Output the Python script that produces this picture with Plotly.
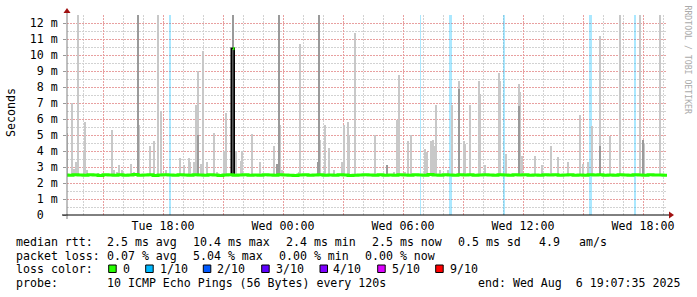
import pandas as pd
import plotly.graph_objects as go

# ---------------- data ----------------
BASE_DAY = pd.Timestamp("2025-08-05 00:00:00")  # Tuesday


def t(hours):
    return [BASE_DAY + pd.to_timedelta(h, unit="h") for h in hours]


# median rtt in ms, every 15 minutes starting Tue 13:00
median_start_h = 13.0
median_step_h = 0.25
median_ms = [
    2.50, 2.49, 2.52, 2.50, 2.48, 2.51, 2.50, 2.47, 2.52, 2.50,
    2.49, 2.51, 2.48, 2.50, 2.53, 2.49, 2.50, 2.51, 2.47, 2.50,
    2.52, 2.50, 2.49, 2.51, 2.50, 2.48, 2.52, 2.50, 2.49, 2.51,
    2.50, 2.47, 2.50, 2.52, 2.49, 2.50, 2.51, 2.48, 2.50, 2.49,
    2.52, 2.50, 2.48, 2.51, 2.50, 2.49, 2.47, 2.50, 2.51, 2.49,
    2.50, 2.52, 2.48, 2.50, 2.49, 2.51, 2.50, 2.47, 2.49, 2.50,
    2.52, 2.50, 2.49, 2.51, 2.48, 2.50, 2.49, 2.52, 2.50, 2.48,
    2.51, 2.50, 2.49, 2.53, 2.50, 2.48, 2.51, 2.50, 2.49, 2.52,
    2.50, 2.51, 2.49, 2.50, 2.52, 2.50, 2.48, 2.51, 2.50, 2.49,
    2.52, 2.50, 2.51, 2.49, 2.50, 2.48, 2.51, 2.50, 2.52, 2.49,
    2.50, 2.51, 2.48, 2.50, 2.49, 2.52, 2.50, 2.51, 2.49, 2.50,
    2.48, 2.51, 2.50, 2.49, 2.52, 2.50, 2.49, 2.51, 2.50, 2.50,
    2.49, 2.50,
]

# single median spike
peak_h = 21.53
peak_ms = 10.4
median_base_ms = 2.5

# smoke (ping spread) spikes: light shade
light_h = [
    13.2, 13.45, 13.535, 13.65, 13.735, 14.035, 14.115, 14.2, 14.75, 15.45,
    15.535, 15.7, 15.815, 15.95, 16.4, 16.535, 16.815, 17.335, 17.535, 17.75,
    17.915, 18.15, 18.865, 19.035, 19.3, 19.365, 19.575, 19.665, 19.75, 19.915,
    20.015, 20.2, 20.535, 20.7, 21.075, 21.135, 21.65, 21.925, 21.975, 22.45,
    22.865, 23.535, 23.865, 23.95, 24.785, 24.835, 25.865, 26.115, 26.315, 26.535,
    26.95, 27.035, 27.25, 27.325, 27.615, 28.615, 29.535, 29.725, 29.815, 30.115,
    30.235, 30.415, 31.125, 31.225, 31.415, 31.5, 31.585, 31.665, 31.85, 32.275,
    32.465, 32.815, 33.05, 33.125, 33.335, 33.815, 33.875, 34.1, 34.815, 34.875,
    35.175, 35.815, 35.875, 35.95, 36.615, 36.95, 37.415, 37.75, 38.235, 38.835,
    39.0, 39.25, 39.465, 39.865, 40.335, 40.865, 41.865, 42.075, 42.865,
]
light_top = [
    5.1, 7.0, 2.9, 3.3, 13.0, 4.0, 5.8, 2.8, 2.6, 5.3,
    2.8, 2.7, 3.1, 2.8, 3.2, 2.7, 5.6, 4.3, 4.65, 13.0,
    6.5, 2.8, 3.55, 3.1, 3.55, 3.3, 3.3, 6.9, 9.0, 3.2,
    10.25, 3.3, 5.1, 2.7, 4.0, 6.35, 4.0, 3.35, 4.0, 5.05,
    3.3, 4.3, 5.6, 2.8, 2.7, 10.7, 4.7, 5.6, 4.2, 2.8,
    3.3, 5.6, 5.8, 5.0, 11.4, 5.0, 2.7, 5.95, 8.75, 2.7,
    4.6, 5.0, 4.1, 3.95, 4.6, 4.7, 4.3, 6.9, 2.8, 2.8,
    6.9, 8.4, 4.65, 4.45, 6.9, 8.4, 7.55, 3.1, 8.9, 8.4,
    3.8, 8.2, 7.7, 3.7, 3.7, 3.1, 4.3, 3.65, 3.3, 6.25,
    3.2, 3.3, 5.55, 11.2, 4.95, 13.0, 13.0, 4.45, 13.0,
]

# smoke spikes: dark shade
dark_h = [16.75, 19.75, 21.53, 23.725, 23.785, 25.75, 25.815, 29.2, 32.815, 35.815, 39.865, 42.025]
dark_top = [13.0, 5.0, 13.0, 3.2, 13.0, 3.3, 13.0, 3.1, 7.9, 6.8, 4.3, 4.7]
smoke_base_ms = 2.45

# packet loss events (1/10) : time and duration in minutes
loss_h = [18.335, 30.865, 32.385, 35.035, 39.385, 41.59]
loss_min = [6, 3, 9, 6, 9, 6]

# axis ticks
y_max = 12.5
y_ticks = list(range(0, 13))
y_ticktext = ["0\u00a0\u00a0"] + [f"{v} m" for v in range(1, 13)]
x_major_h = [15, 18, 21, 24, 27, 30, 33, 36, 39, 42]
x_major_text = ["", "Tue 18:00", "", "Wed 00:00", "", "Wed 06:00", "", "Wed 12:00", "", "Wed 18:00"]
x_range_h = [13.2, 43.2]

# legend texts
line1 = [(16, "median rtt:"), (107.3, "2.5 ms avg"), (193.3, "10.4 ms max"), (286, "2.4 ms min"),
         (371.7, "2.5 ms now"), (458.3, "0.5 ms sd"), (539, "4.9"), (579.3, "am/s")]
line2 = [(16, "packet loss:"), (107.3, "0.07 % avg"), (192.7, "5.04 % max"),
         (279.3, "0.00 % min"), (365, "0.00 % now")]
loss_labels = ["0", "1/10", "2/10", "3/10", "4/10", "5/10", "9/10"]
loss_colors = ["#26ff00", "#00b8ff", "#0059ff", "#5e00ff", "#7e00ff", "#dd00ff", "#ff0000"]
line4 = [(16, "probe:"), (107.3, "10 ICMP Echo Pings (56 Bytes) every 120s"),
         (478.3, "end: Wed Aug\u00a0\u00a06 19:07:35 2025")]

# ---------------- layout helpers ----------------
W, H = 697, 297
L, R, T, B = 67, 30, 15, 82
PW, PH = W - L - R, H - T - B
MONO = "DejaVu Sans Mono"
FS = 11.6


def px(x):
    return (x - L) / PW


def py(y):
    return (T + PH - y) / PH


fig = go.Figure()

# loss background bars
fig.add_trace(go.Bar(
    x=t(loss_h), y=[y_max] * len(loss_h), base=0,
    width=[m * 60000 for m in loss_min],
    marker=dict(color="rgba(0,184,255,0.33)", line=dict(width=0)),
    hoverinfo="skip", showlegend=False,
))

# smoke light
fig.add_trace(go.Bar(
    x=t(light_h), y=[v - smoke_base_ms for v in light_top], base=smoke_base_ms,
    width=4 * 60000,
    marker=dict(color="#c8c8c8", line=dict(width=0)),
    hoverinfo="skip", showlegend=False,
))
# smoke dark
fig.add_trace(go.Bar(
    x=t(dark_h), y=[v - smoke_base_ms for v in dark_top], base=smoke_base_ms,
    width=4 * 60000,
    marker=dict(color="#9a9a9a", line=dict(width=0)),
    hoverinfo="skip", showlegend=False,
))

# median spike
fig.add_trace(go.Bar(
    x=t([peak_h]), y=[peak_ms - median_base_ms], base=median_base_ms,
    width=8 * 60000,
    marker=dict(color="#5a5a5a", line=dict(width=1.5, color="#000000")),
    hoverinfo="skip", showlegend=False,
))

# median line
med_h = [median_start_h + i * median_step_h for i in range(len(median_ms))]
fig.add_trace(go.Scatter(
    x=t(med_h), y=median_ms, mode="lines",
    line=dict(color="#26ff00", width=3, shape="hv"),
    hoverinfo="skip", showlegend=False,
))
fig.add_trace(go.Scatter(
    x=t([peak_h - 0.04, peak_h + 0.04]), y=[peak_ms, peak_ms], mode="lines",
    line=dict(color="#26ff00", width=3),
    hoverinfo="skip", showlegend=False,
))

# ---------------- shapes (axes, arrows, swatches) ----------------
shapes = [
    dict(type="line", xref="paper", yref="paper", x0=px(67), x1=px(67), y0=py(219), y1=py(11),
         line=dict(color="#808080", width=1)),
    dict(type="line", xref="paper", yref="paper", x0=px(62), x1=px(670), y0=py(215), y1=py(215),
         line=dict(color="#000000", width=1)),
    dict(type="path", xref="paper", yref="paper",
         path=f"M {px(67)} {py(8)} L {px(63.5)} {py(13)} L {px(70.5)} {py(13)} Z",
         fillcolor="#a01010", line=dict(width=0)),
    dict(type="path", xref="paper", yref="paper",
         path=f"M {px(674)} {py(215)} L {px(669)} {py(211.5)} L {px(669)} {py(218.5)} Z",
         fillcolor="#a01010", line=dict(width=0)),
]

swatch_x = [108.7, 145.7, 203.3, 261.7, 320, 377.7, 435.7]
label_x = [123.3, 160, 217.3, 276, 333.3, 391.7, 450]
for sx, c in zip(swatch_x, loss_colors):
    shapes.append(dict(type="rect", xref="paper", yref="paper",
                       x0=px(sx), x1=px(sx + 7.5), y0=py(272.5), y1=py(265),
                       fillcolor=c, line=dict(color="#000000", width=1)))

# ---------------- annotations ----------------
ann = []


def text(x, y, s, size=FS, color="#000000", angle=0, xanchor="left"):
    ann.append(dict(x=px(x), y=py(y), xref="paper", yref="paper", text=s,
                    showarrow=False, xanchor=xanchor, yanchor="middle", textangle=angle,
                    font=dict(family=MONO, size=size, color=color), borderpad=0))


for x, s in line1:
    text(x - 1, 242, s.replace("  ", "\u00a0\u00a0"))
for x, s in line2:
    text(x - 1, 255.5, s)
text(15, 269, "loss color:")
for x, s in zip(label_x, loss_labels):
    text(x - 1, 269, s)
for x, s in line4:
    text(x - 1, 283, s)

ann.append(dict(x=px(11), y=py(113), xref="paper", yref="paper", text="Seconds",
                showarrow=False, xanchor="center", yanchor="middle", textangle=-90,
                font=dict(family=MONO, size=FS, color="#000000")))
ann.append(dict(x=px(688), y=py(59.5), xref="paper", yref="paper", text="RRDTOOL / TOBI OETIKER",
                showarrow=False, xanchor="center", yanchor="middle", textangle=90,
                font=dict(family=MONO, size=8.2, color="#aaaaaa")))

fig.update_layout(
    width=W, height=H,
    margin=dict(l=L, r=R, t=T, b=B, pad=0),
    paper_bgcolor="#ffffff", plot_bgcolor="#ffffff",
    barmode="overlay", bargap=0,
    shapes=shapes, annotations=ann,
    xaxis=dict(
        type="date", range=t(x_range_h),
        tickmode="array", tickvals=t(x_major_h), ticktext=x_major_text,
        showgrid=True, gridcolor="#e8a0a0", griddash="2px,1px", gridwidth=1,
        minor=dict(tick0=BASE_DAY, dtick=3600000, showgrid=True,
                   gridcolor="#d2d2d2", griddash="2px,1px", gridwidth=1),
        ticks="", showline=False, zeroline=False,
        tickfont=dict(family=MONO, size=FS, color="#000000"),
        ticklabelstandoff=2, fixedrange=True,
    ),
    yaxis=dict(
        range=[0, y_max], tickmode="array", tickvals=y_ticks, ticktext=y_ticktext,
        showgrid=True, gridcolor="#e8a0a0", griddash="2px,1px", gridwidth=1,
        minor=dict(dtick=0.5, tick0=0, showgrid=True,
                   gridcolor="#d2d2d2", griddash="2px,1px", gridwidth=1),
        ticks="outside", ticklen=3, tickcolor="#999999",
        showline=False, zeroline=False,
        tickfont=dict(family=MONO, size=FS, color="#000000"),
        ticklabelstandoff=3, fixedrange=True,
    ),
)

fig.write_html("out.html")
